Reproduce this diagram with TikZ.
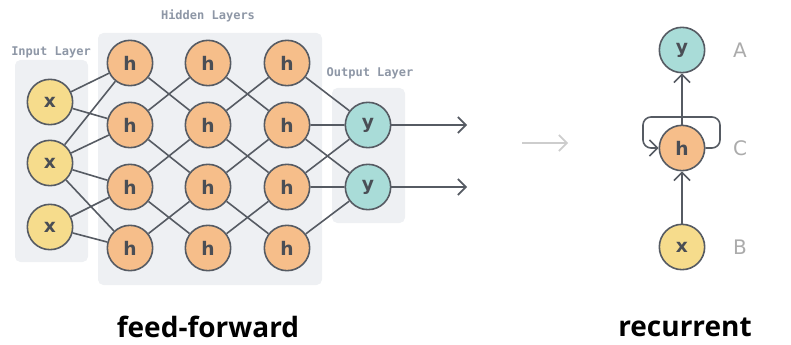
\documentclass[tikz,border=0pt]{standalone}
\usepackage{fontspec}
\setmainfont{DejaVu Sans}
\newfontfamily\layerfont{DejaVu Sans Mono}
\newfontfamily\captionfont{Open Sans}
\usetikzlibrary{arrows.meta}
\definecolor{edgegray}{HTML}{565B63}
\definecolor{textgray}{HTML}{4A4E55}
\definecolor{boxgray}{HTML}{EEF0F3}
\definecolor{labelgray}{HTML}{8E97A6}
\definecolor{inputcol}{HTML}{F6DC8C}
\definecolor{hiddencol}{HTML}{F6BE8A}
\definecolor{outputcol}{HTML}{A9DCD8}
\definecolor{lettergray}{HTML}{ABABAB}
\begin{document}
\begin{tikzpicture}
            [x = 0.75pt, y = -0.75pt,
             unit/.style = {circle, draw = edgegray, line width = 1.2pt, minimum size = 34pt,
                            inner sep = 0pt, text = textgray, font = \bfseries\fontsize{14}{14}\selectfont},
             inunit/.style = {unit, fill = inputcol},
             hidunit/.style = {unit, fill = hiddencol},
             outunit/.style = {unit, fill = outputcol},
             layerbox/.style = {fill = boxgray, rounded corners = 4pt},
             layerlabel/.style = {text = labelgray, font = \layerfont\bfseries\fontsize{9}{9}\selectfont},
             wire/.style = {draw = edgegray, line width = 1.2pt},
             flow/.style = {wire, -{Straight Barb[length = 6pt, width = 12pt, line width = 1.2pt]}},
             tag/.style = {text = lettergray, font = \fontsize{15}{15}\selectfont},
             caption/.style = {font = \captionfont\bfseries\fontsize{21}{21}\selectfont}]
            \useasboundingbox (0,0) rectangle (791,345);
            % layer backgrounds
            \fill[layerbox] (15,60) rectangle (88,262);
            \fill[layerbox] (98,33) rectangle (322,285);
            \fill[layerbox] (332,88) rectangle (405,223);
            \node[layerlabel] (inlabel) at (51,52) {Input Layer};
            \node[layerlabel] (hidlabel) at (208,16) {Hidden Layers};
            \node[layerlabel] (outlabel) at (370,73) {Output Layer};
            % feed-forward units
            \node[inunit] (x1) at (50,102) {x};
            \node[inunit] (x2) at (50,163) {x};
            \node[inunit] (x3) at (50,227) {x};
            \node[hidunit] (ha1) at (130,63) {h};
            \node[hidunit] (ha2) at (130,125) {h};
            \node[hidunit] (ha3) at (130,187) {h};
            \node[hidunit] (ha4) at (130,248) {h};
            \node[hidunit] (hb1) at (208,63) {h};
            \node[hidunit] (hb2) at (208,125) {h};
            \node[hidunit] (hb3) at (208,187) {h};
            \node[hidunit] (hb4) at (208,248) {h};
            \node[hidunit] (hc1) at (287,63) {h};
            \node[hidunit] (hc2) at (287,125) {h};
            \node[hidunit] (hc3) at (287,187) {h};
            \node[hidunit] (hc4) at (287,248) {h};
            \node[outunit] (y1) at (368,125) {y};
            \node[outunit] (y2) at (368,187) {y};
            \coordinate (out1) at (467,125);
            \coordinate (out2) at (467,187);
            \draw[wire] (x1) -- (ha1) (x1) -- (ha2);
            \draw[wire] (x2) -- (ha1) (x2) -- (ha2) (x2) -- (ha3) (x2) -- (ha4);
            \draw[wire] (x3) -- (ha3) (x3) -- (ha4);
            \draw[wire] (ha1) -- (hb2) (ha2) -- (hb1) (ha2) -- (hb3);
            \draw[wire] (ha3) -- (hb2) (ha3) -- (hb4) (ha4) -- (hb3);
            \draw[wire] (hb1) -- (hc2) (hb2) -- (hc1) (hb2) -- (hc3);
            \draw[wire] (hb3) -- (hc2) (hb3) -- (hc4) (hb4) -- (hc3);
            \draw[wire] (hc1) -- (y1) (hc2) -- (y1) (hc2) -- (y2);
            \draw[wire] (hc3) -- (y1) (hc3) -- (y2) (hc4) -- (y2);
            \draw[flow] (y1) -- (out1);
            \draw[flow] (y2) -- (out2);
            % becomes
            \coordinate (turnL) at (522,143);
            \coordinate (turnR) at (568,143);
            \draw[flow, draw = lettergray!60, line width = 1.6pt] (turnL) -- (turnR);
            % recurrent unit
            \node[outunit] (ry) at (682,50) {y};
            \node[hidunit] (rh) at (682,148) {h};
            \node[inunit] (rx) at (682,247) {x};
            \node[tag] (ta) at (740,50) {A};
            \node[tag] (tc) at (740,148) {C};
            \node[tag] (tb) at (740,247) {B};
            \coordinate (loopR) at (720,117);
            \coordinate (loopL) at (643,117);
            \draw[flow] (rx) -- (rh);
            \draw[flow] (rh) -- (ry);
            \draw[flow, rounded corners = 6pt] (rh.east) -| (loopR) -- (loopL) |- (rh.west);
            % captions
            \node[caption] (ffcap) at (208,327) {feed-forward};
            \node[caption] (rcap) at (685,327) {recurrent};
\end{tikzpicture}
\end{document}
